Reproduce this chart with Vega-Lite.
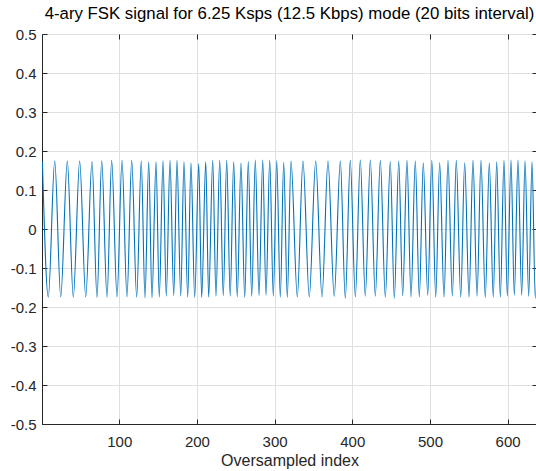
{
  "$schema": "https://vega.github.io/schema/vega-lite/v6.json",
  "width": 495,
  "height": 390,
  "autosize": "none",
  "padding": {"left": 42, "top": 34, "right": 0, "bottom": 47},
  "background": "white",
  "title": {"text": "4-ary FSK signal for 6.25 Ksps (12.5 Kbps) mode (20 bits interval)", "fontSize": 16.8, "font": "Liberation Sans", "fontWeight": "normal", "color": "#000000", "offset": 4, "anchor": "middle"},
  "config": {"view": {"stroke": "#262626", "strokeWidth": 1}, "font": "Liberation Sans"},
  "data": {"values": [
    {"i": 1, "v": 0.173}, {"i": 8.6, "v": -0.175}, {"i": 16.9, "v": 0.174}, {"i": 24.6, "v": -0.174},
    {"i": 33.1, "v": 0.174}, {"i": 40.8, "v": -0.175}, {"i": 49.0, "v": 0.174}, {"i": 56.8, "v": -0.174},
    {"i": 64.9, "v": 0.173}, {"i": 71.3, "v": -0.176}, {"i": 77.4, "v": 0.175}, {"i": 84.2, "v": -0.175},
    {"i": 90.2, "v": 0.176}, {"i": 97.1, "v": -0.174}, {"i": 103.5, "v": 0.176}, {"i": 109.9, "v": -0.174},
    {"i": 116.0, "v": 0.176}, {"i": 122.4, "v": -0.175}, {"i": 128.3, "v": 0.174}, {"i": 133.1, "v": -0.177},
    {"i": 137.9, "v": 0.172}, {"i": 142.1, "v": -0.177}, {"i": 147.3, "v": 0.172}, {"i": 151.5, "v": -0.175},
    {"i": 156.3, "v": 0.175}, {"i": 160.5, "v": -0.172}, {"i": 165.3, "v": 0.176}, {"i": 170.1, "v": -0.171},
    {"i": 174.3, "v": 0.176}, {"i": 179.1, "v": -0.172}, {"i": 183.3, "v": 0.172}, {"i": 188.1, "v": -0.175},
    {"i": 192.3, "v": 0.170}, {"i": 197.1, "v": -0.176}, {"i": 202.3, "v": 0.167}, {"i": 206.1, "v": -0.176},
    {"i": 211.3, "v": 0.172}, {"i": 215.1, "v": -0.175}, {"i": 220.3, "v": 0.176}, {"i": 224.5, "v": -0.172},
    {"i": 229.3, "v": 0.176}, {"i": 233.9, "v": -0.171}, {"i": 238.3, "v": 0.176}, {"i": 242.8, "v": -0.172},
    {"i": 247.3, "v": 0.172}, {"i": 251.9, "v": -0.174}, {"i": 256.7, "v": 0.169}, {"i": 261.5, "v": -0.176},
    {"i": 266.1, "v": 0.173}, {"i": 270.5, "v": -0.173}, {"i": 275.1, "v": 0.177}, {"i": 279.9, "v": -0.171},
    {"i": 284.7, "v": 0.177}, {"i": 288.9, "v": -0.170}, {"i": 293.7, "v": 0.177}, {"i": 298.3, "v": -0.172},
    {"i": 302.7, "v": 0.175}, {"i": 307.3, "v": -0.175}, {"i": 311.7, "v": 0.171}, {"i": 316.3, "v": -0.176},
    {"i": 321.1, "v": 0.174}, {"i": 329.2, "v": -0.174}, {"i": 336.5, "v": 0.174}, {"i": 344.6, "v": -0.174},
    {"i": 352.9, "v": 0.174}, {"i": 361.0, "v": -0.174}, {"i": 368.7, "v": 0.174}, {"i": 376.7, "v": -0.173},
    {"i": 384.6, "v": 0.174}, {"i": 391.0, "v": -0.178}, {"i": 397.4, "v": 0.176}, {"i": 403.9, "v": -0.174},
    {"i": 410.3, "v": 0.177}, {"i": 416.7, "v": -0.172}, {"i": 423.2, "v": 0.177}, {"i": 429.6, "v": -0.172},
    {"i": 436.1, "v": 0.176}, {"i": 442.5, "v": -0.175}, {"i": 448.9, "v": 0.173}, {"i": 454.1, "v": -0.178},
    {"i": 459.8, "v": 0.174}, {"i": 464.9, "v": -0.171}, {"i": 470.4, "v": 0.176}, {"i": 475.6, "v": -0.174},
    {"i": 481.1, "v": 0.174}, {"i": 486.3, "v": -0.174}, {"i": 491.4, "v": 0.170}, {"i": 497.1, "v": -0.170},
    {"i": 502.4, "v": 0.176}, {"i": 507.4, "v": -0.175}, {"i": 512.5, "v": 0.170}, {"i": 518.1, "v": -0.175},
    {"i": 523.2, "v": 0.176}, {"i": 528.8, "v": -0.172}, {"i": 533.9, "v": 0.176}, {"i": 539.6, "v": -0.175},
    {"i": 544.7, "v": 0.170}, {"i": 550.3, "v": -0.175}, {"i": 555.4, "v": 0.176}, {"i": 560.6, "v": -0.172},
    {"i": 565.7, "v": 0.176}, {"i": 571.2, "v": -0.176}, {"i": 576.4, "v": 0.169}, {"i": 581.5, "v": -0.175},
    {"i": 585.9, "v": 0.172}, {"i": 590.6, "v": -0.175}, {"i": 595.3, "v": 0.176}, {"i": 599.6, "v": -0.172},
    {"i": 604.3, "v": 0.177}, {"i": 608.6, "v": -0.170}, {"i": 613.3, "v": 0.177}, {"i": 618.1, "v": -0.170},
    {"i": 622.4, "v": 0.175}, {"i": 627.1, "v": -0.173}, {"i": 631.4, "v": 0.172}, {"i": 635.6, "v": -0.178},
    {"i": 640, "v": 0.172}
  ]},
  "layer": [
    {
      "mark": {"type": "line", "interpolate": "monotone", "color": "#0072BD", "strokeWidth": 1.1, "clip": true},
      "encoding": {
        "x": {"field": "i", "type": "quantitative",
          "scale": {"domain": [0.5, 637.8], "nice": false, "zero": false},
          "axis": {"orient": "bottom", "values": [100, 200, 300, 400, 500, 600], "title": "Oversampled index",
            "titleFont": "Liberation Sans", "titleFontSize": 16, "titleFontWeight": "normal", "titleColor": "#262626", "titlePadding": 3,
            "labelFont": "Liberation Sans", "labelFontSize": 15, "labelColor": "#262626", "labelPadding": 15, "labelFlush": false,
            "tickSize": -5, "tickColor": "#262626", "domainColor": "#262626", "grid": true, "gridColor": "#dfdfdf"}},
        "y": {"field": "v", "type": "quantitative",
          "scale": {"domain": [-0.5, 0.5], "nice": false, "zero": false},
          "axis": {"orient": "left", "values": [-0.5, -0.4, -0.3, -0.2, -0.1, 0, 0.1, 0.2, 0.3, 0.4, 0.5], "title": null,
            "labelExpr": "datum.value == 0 ? '0' : replace(format(datum.value, '.1f'), '\u2212', '-')",
            "labelFont": "Liberation Sans", "labelFontSize": 15, "labelColor": "#262626", "labelPadding": 11, "labelFlush": false,
            "tickSize": -5, "tickColor": "#262626", "domainColor": "#262626", "grid": true, "gridColor": "#dfdfdf"}}
      }
    },
    {
      "mark": {"type": "line", "opacity": 0, "clip": true},
      "encoding": {
        "x": {"field": "i", "type": "quantitative",
          "axis": {"orient": "top", "values": [100, 200, 300, 400, 500, 600], "title": null, "labels": false, "grid": false, "domain": false, "tickSize": -5, "tickColor": "#262626"}},
        "y": {"field": "v", "type": "quantitative",
          "axis": {"orient": "right", "values": [-0.5, -0.4, -0.3, -0.2, -0.1, 0, 0.1, 0.2, 0.3, 0.4, 0.5], "title": null, "labels": false, "grid": false, "domain": false, "tickSize": -5, "tickColor": "#262626"}}
      }
    }
  ],
  "resolve": {"axis": {"x": "independent", "y": "independent"}}
}
